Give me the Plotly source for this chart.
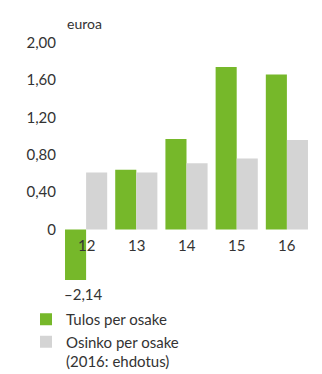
import plotly.graph_objects as go

# Earnings and dividend per share, euros
years = ["12", "13", "14", "15", "16"]
eps = [-2.14, 0.64, 0.97, 1.74, 1.66]
dps = [0.61, 0.61, 0.71, 0.76, 0.96]

ytick_vals = [0, 0.4, 0.8, 1.2, 1.6, 2.0]
ytick_text = ["0", "0,40", "0,80", "1,20", "1,60", "2,00"]

GREEN = "#76b82a"
GREY = "#d4d4d4"
TEXT = "#333333"
FONT = "Lato"

xpos = list(range(len(years)))

fig = go.Figure()
fig.add_trace(go.Bar(
    x=xpos, y=eps, name="Tulos per osake",
    marker=dict(color=GREEN, line=dict(width=0)),
))
fig.add_trace(go.Bar(
    x=xpos, y=dps, name="Osinko per osake<br>(2016: ehdotus)",
    marker=dict(color=GREY, line=dict(width=0)),
))

# category labels sit just under the zero line
annotations = []
for i, yr in enumerate(years):
    annotations.append(dict(
        x=i, y=0, xref="x", yref="y", text=yr, showarrow=False,
        yanchor="top", yshift=-4, font=dict(size=15, color=TEXT, family=FONT),
    ))

# value of the clipped negative bar
annotations.append(dict(
    x=0, y=0, xref="x", yref="paper", text="–2,14", showarrow=False,
    xanchor="center", yanchor="top", xshift=-3, yshift=-3,
    font=dict(size=15, color=TEXT, family=FONT),
))

# unit label
annotations.append(dict(
    x=0.016, y=1, xref="paper", yref="paper", text="euroa", showarrow=False,
    xanchor="left", yanchor="bottom", yshift=6,
    font=dict(size=14, color=TEXT, family=FONT),
))

fig.update_layout(
    width=322, height=374,
    margin=dict(l=61, r=10, t=40, b=94, autoexpand=False),
    paper_bgcolor="white", plot_bgcolor="white",
    barmode="group", bargap=0.16, bargroupgap=0,
    font=dict(family=FONT, size=15, color=TEXT),
    xaxis=dict(
        range=[-0.5, 4.5], showticklabels=False, showgrid=False,
        zeroline=False, showline=False, ticks="",
    ),
    yaxis=dict(
        range=[-0.54, 2.03], tickvals=ytick_vals, ticktext=ytick_text,
        showgrid=False, zeroline=False, showline=False, ticks="",
        tickfont=dict(size=15, color=TEXT, family=FONT),
        ticklabelstandoff=4,
    ),
    legend=dict(
        xref="paper", yref="paper",
        x=-35 / 251, y=-23 / 240, xanchor="left", yanchor="top",
        orientation="v", valign="top", tracegroupgap=0,
        font=dict(size=15, color=TEXT, family=FONT),
        bgcolor="rgba(0,0,0,0)",
    ),
    annotations=annotations,
    showlegend=True,
)

fig.write_html("out.html")
